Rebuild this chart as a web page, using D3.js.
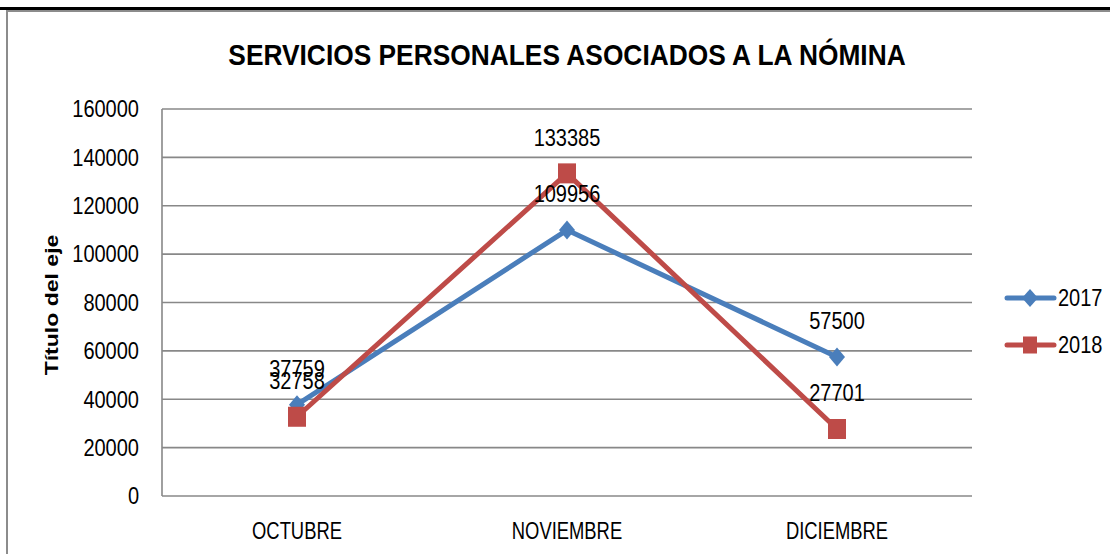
<!DOCTYPE html>
<html>
<head>
<meta charset="utf-8">
<script src="https://cdn.jsdelivr.net/npm/d3@7"></script>
<style>
  body { margin: 0; background: #fff; }
  svg { display: block; font-family: "Liberation Sans", Arial, sans-serif; }
</style>
</head>
<body>
<div id="chart"></div>
<script>
// chart data
const months = ["OCTUBRE", "NOVIEMBRE", "DICIEMBRE"];
const values2017 = [37759, 109956, 57500];
const values2018 = [32758, 133385, 27701];
const seriesNames = ["2017", "2018"];
const yTicks = [0, 20000, 40000, 60000, 80000, 100000, 120000, 140000, 160000];

const W = 1110, H = 554;
const margin = {top: 109, right: 138, bottom: 58, left: 162};
const colors = ["#4A7EBB", "#BE4B48"];
const DIGIT_SX = 0.87, LETTER_SX = 0.8;

const svg = d3.select("#chart").append("svg")
    .attr("width", W).attr("height", H);

// text squeezed horizontally, the fonts here are wider than the original
function label(parent, px, py, txt, sx, opts) {
    opts = opts || {};
    return parent.append("text")
        .attr("transform", `translate(${px},${py}) scale(${sx},1)`)
        .attr("text-anchor", opts.anchor || "middle")
        .attr("dy", opts.dy || null)
        .attr("font-size", opts.size || 23)
        .attr("font-weight", opts.weight || null)
        .text(txt);
}

// frame
svg.append("line").attr("x1", 0).attr("x2", W).attr("y1", 8.5).attr("y2", 8.5)
    .attr("stroke", "#000").attr("stroke-width", 3);
svg.append("line").attr("x1", 7).attr("x2", W).attr("y1", 11).attr("y2", 11)
    .attr("stroke", "#8c8c8c").attr("stroke-width", 2);
svg.append("line").attr("x1", 7).attr("x2", 7).attr("y1", 10).attr("y2", H)
    .attr("stroke", "#8c8c8c").attr("stroke-width", 2);

const x = d3.scaleBand().domain(months)
    .range([margin.left, W - margin.right]);
const y = d3.scaleLinear().domain([0, 160000])
    .range([H - margin.bottom, margin.top]);
const cx = d => x(d) + x.bandwidth() / 2;

// gridlines
svg.append("g").selectAll("line").data(yTicks).join("line")
    .attr("x1", margin.left).attr("x2", W - margin.right)
    .attr("y1", d => y(d)).attr("y2", d => y(d))
    .attr("stroke", "#888").attr("stroke-width", 1.6);

// y axis line
svg.append("line")
    .attr("x1", margin.left).attr("x2", margin.left)
    .attr("y1", margin.top).attr("y2", H - margin.bottom)
    .attr("stroke", "#888").attr("stroke-width", 1.6);

// y tick labels
const yl = svg.append("g");
yTicks.forEach(t => label(yl, margin.left - 23, y(t), t, DIGIT_SX, {anchor: "end", dy: "0.36em"}));

// x labels
const xl = svg.append("g");
months.forEach(m => label(xl, cx(m), 539, m, LETTER_SX));

// title
label(svg, 567, 65, "SERVICIOS PERSONALES ASOCIADOS A LA NÓMINA", 0.878,
    {size: 30, weight: "bold"});

// y axis title
svg.append("text")
    .attr("transform", "translate(58,305) rotate(-90) scale(1.28,1)")
    .attr("text-anchor", "middle")
    .attr("font-size", 18).attr("font-weight", "bold")
    .text("Título del eje");

const series = [values2017, values2018];
const line = d3.line().x((d, i) => cx(months[i])).y(d => y(d));

series.forEach((vals, s) => {
    svg.append("path").datum(vals)
        .attr("d", line)
        .attr("fill", "none")
        .attr("stroke", colors[s])
        .attr("stroke-width", 5)
        .attr("stroke-linejoin", "round");
});

function marker(g, s, px, py, small) {
    if (s === 0) {
        const hw = 8, hh = small ? 9 : 9.5;
        g.append("path")
            .attr("d", `M${px},${py - hh}L${px + hw},${py}L${px},${py + hh}L${px - hw},${py}Z`)
            .attr("fill", colors[0]);
    } else {
        const w = small ? 14 : 18, h = small ? 17 : 20;
        g.append("rect")
            .attr("x", px - w / 2).attr("y", py - h / 2)
            .attr("width", w).attr("height", h)
            .attr("fill", colors[1]);
    }
}

series.forEach((vals, s) => {
    const g = svg.append("g");
    vals.forEach((v, i) => marker(g, s, cx(months[i]), y(v)));
});

// data labels
series.forEach(vals => {
    const g = svg.append("g");
    vals.forEach((v, i) => label(g, cx(months[i]), y(v) - 36, v, DIGIT_SX, {dy: "0.36em"}));
});

// legend
seriesNames.forEach((name, s) => {
    const ly = 298 + s * 47;
    const g = svg.append("g");
    g.append("line").attr("x1", 1007).attr("x2", 1054)
        .attr("y1", ly).attr("y2", ly)
        .attr("stroke", colors[s]).attr("stroke-width", 5)
        .attr("stroke-linecap", "round");
    marker(g, s, 1030, ly, true);
    label(g, 1058, ly, name, DIGIT_SX, {anchor: "start", dy: "0.36em"});
});
</script>
</body>
</html>
